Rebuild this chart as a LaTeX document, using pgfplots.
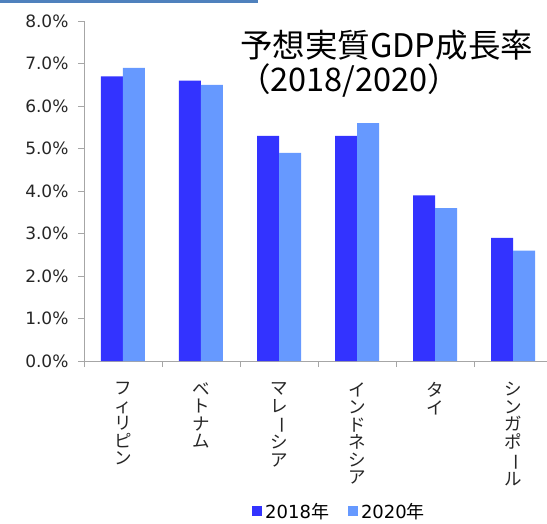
\documentclass[border=0pt]{standalone}
\usepackage{pgfplots}
\pgfplotsset{compat=1.18}
\usepackage{fontspec}
\setmainfont{DejaVu Sans}
\newfontfamily\jp{Noto Sans CJK JP}
\definecolor{c2018}{HTML}{3333FF}
\definecolor{c2020}{HTML}{6699FF}
\definecolor{axgray}{HTML}{A6A6A6}
\definecolor{topblue}{HTML}{4F81BD}
\newcommand{\cho}{\rotatebox[origin=c]{-90}{ー}}
\begin{document}
\begin{tikzpicture}[x=1pt,y=1pt]
\path[use as bounding box] (0,0) rectangle (547,523);
\fill[topblue] (0,520) rectangle (258,523);
\begin{axis}[
  at={(84pt,162pt)}, anchor=south west,
  width=468pt, height=340pt, scale only axis,
  xmin=-0.5, xmax=5.5, ymin=0, ymax=8,
  axis x line=bottom, axis y line=left,
  axis line style={-, draw=axgray, line width=0.8pt},
  tick style={draw=axgray, line width=0.8pt},
  tick align=outside, major tick length=6pt,
  ytick={0,1,...,8},
  yticklabel={\pgfmathprintnumber[fixed,fixed zerofill,precision=1]{\tick}\%},
  /pgf/number format/assume math mode=true,
  yticklabel style={font=\fontsize{17}{20}\selectfont, text=black!85, xshift=-6pt},
  xtick={-0.5,0.5,...,5.5},
  x tick label as interval,
  xticklabels={{フ\\ィ\\リ\\ピ\\ン},{ベ\\ト\\ナ\\ム},{マ\\レ\\\cho\\シ\\ア},{イ\\ン\\ド\\ネ\\シ\\ア},{タ\\イ},{シ\\ン\\ガ\\ポ\\\cho\\ル}},
  xticklabel style={font=\jp\fontsize{17.5}{17.5}\selectfont, align=center, anchor=north, text=black!85, yshift=-12pt},
  ybar, bar width=22pt,
  legend style={at={(0.359,-0.442)}, anchor=west, draw=none, fill=none,
    legend columns=2, font=\fontsize{18}{20}\selectfont,
    /tikz/every even column/.append style={column sep=16pt},
    inner sep=0pt, nodes={inner sep=3pt}},
  legend image code/.code={\fill[#1] (0pt,-5pt) rectangle (10pt,5pt);},
  clip=false,
]
\addplot[fill=c2018, draw=none, bar shift=-11pt] coordinates {(0,6.7) (1,6.6) (2,5.3) (3,5.3) (4,3.9) (5,2.9)};
\addplot[fill=c2020, draw=none, bar shift=11pt] coordinates {(0,6.9) (1,6.5) (2,4.9) (3,5.6) (4,3.6) (5,2.6)};
\legend{2018{\jp 年},2020{\jp 年}}
\end{axis}
\node[anchor=base west, inner sep=0pt, font=\jp\fontsize{32.5}{40}\selectfont] at (240,465) {予想実質GDP成長率};
\node[anchor=base west, inner sep=0pt, font=\jp\fontsize{32.5}{40}\selectfont] at (238,431) {（2018/2020）};
\end{tikzpicture}
\end{document}
